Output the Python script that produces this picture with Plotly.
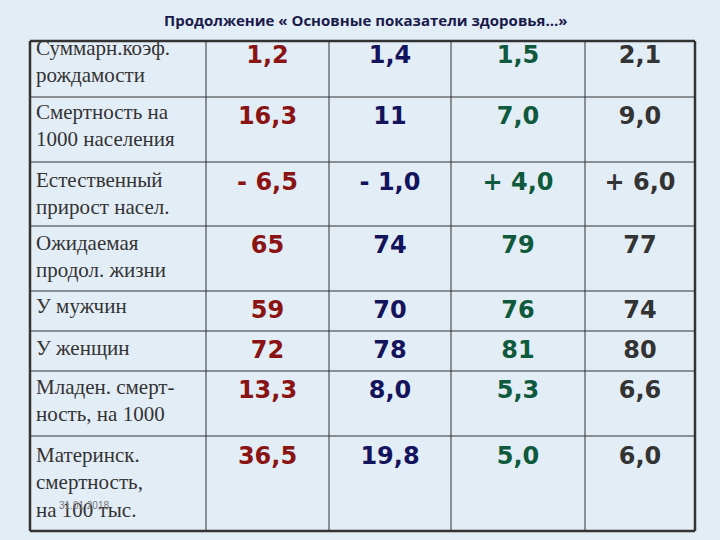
import plotly.graph_objects as go

labels = ["Суммарн.коэф.<br>рождамости", "Смертность на<br>1000 населения",
          "Естественный<br>прирост насел.", "Ожидаемая<br>продол. жизни",
          "У мужчин", "У женщин", "Младен. смерт-<br>ность, на 1000",
          "Материнск.<br>смертность,<br>на 100 тыс."]
col1 = ["1,2", "16,3", "- 6,5", "65", "59", "72", "13,3", "36,5"]
col2 = ["1,4", "11", "- 1,0", "74", "70", "78", "8,0", "19,8"]
col3 = ["1,5", "7,0", "+ 4,0", "79", "76", "81", "5,3", "5,0"]
col4 = ["2,1", "9,0", "+ 6,0", "77", "74", "80", "6,6", "6,0"]
colors = ["#8a1414", "#14145c", "#0f5a3c", "#333333"]

# layout (pixel coords)
col_edges = [30, 206, 329, 451, 585, 695]
row_edges = [41, 97, 162, 226, 291, 331, 371, 436, 531]
num_y = [57, 118, 184, 247, 312, 352, 392, 458]
label_y = [63, 127, 195, 258, 308, 350, 402, 484]

fig = go.Figure()
fig.add_trace(go.Scatter(x=[36] * len(labels), y=label_y, text=labels, mode="text",
                         textposition="middle right",
                         textfont=dict(family="Liberation Serif", size=21, color="#333333"),
                         hoverinfo="skip"))
for i, col in enumerate([col1, col2, col3, col4]):
    cx = (col_edges[i + 1] + col_edges[i + 2]) / 2
    fig.add_trace(go.Scatter(x=[cx] * len(col), y=num_y, text=[f"<b>{v}</b>" for v in col],
                             mode="text",
                             textfont=dict(family="DejaVu Sans", size=24, color=colors[i]),
                             hoverinfo="skip"))

shapes = []
for i, x in enumerate(col_edges):
    w = 2.5 if i in (0, len(col_edges) - 1) else 1
    shapes.append(dict(type="line", x0=x, x1=x, y0=row_edges[0], y1=row_edges[-1],
                       line=dict(color="#333", width=w)))
for i, y in enumerate(row_edges):
    w = 2.5 if i in (0, len(row_edges) - 1) else 1
    shapes.append(dict(type="line", x0=col_edges[0], x1=col_edges[-1], y0=y, y1=y,
                       line=dict(color="#333", width=w)))

fig.update_layout(
    width=720, height=540, margin=dict(l=0, r=0, t=0, b=0),
    paper_bgcolor="#e3edf6", plot_bgcolor="#e3edf6", showlegend=False,
    xaxis=dict(range=[0, 720], visible=False, fixedrange=True),
    yaxis=dict(range=[540, 0], visible=False, fixedrange=True),
    shapes=shapes,
    annotations=[
        dict(x=365, y=20, xref="x", yref="y", showarrow=False,
             text="<b>Продолжение « Основные показатели здоровья…»</b>",
             font=dict(family="Open Sans", size=15, color="#1a1a4a")),
        dict(x=84, y=505, xref="x", yref="y", showarrow=False, text="31.01.2018",
             font=dict(family="Liberation Sans", size=10, color="#777777")),
    ],
)
fig.write_html("out.html", config={"displayModeBar": False},
               post_script="document.body.style.margin='0';document.body.style.background='#e3edf6';")
